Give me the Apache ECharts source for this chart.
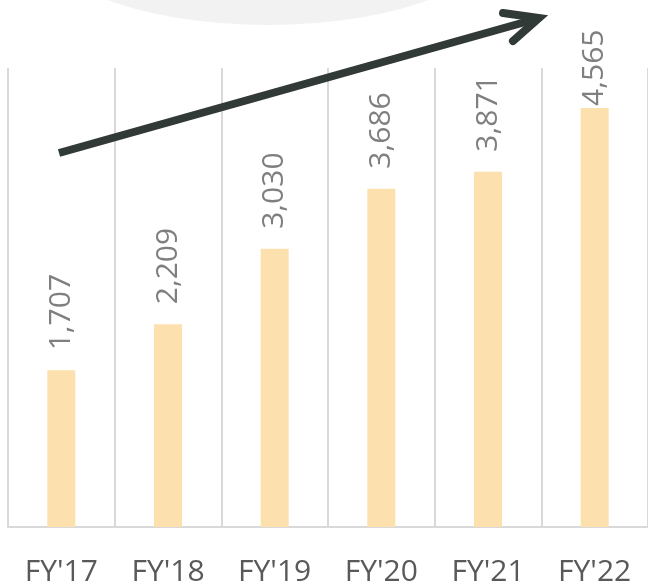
<!DOCTYPE html>
<html>
<head>
<meta charset="utf-8">
<script src="https://cdn.jsdelivr.net/npm/echarts@6/dist/echarts.min.js"></script>
<style>
  html, body { margin: 0; padding: 0; background: #fff; }
  #chart { width: 648px; height: 587px; }
</style>
</head>
<body>
<div id="chart"></div>
<script>
const years = ["FY'17", "FY'18", "FY'19", "FY'20", "FY'21", "FY'22"]
const revenue = [1707, 2209, 3030, 3686, 3871, 4565]

const chart = echarts.init(document.getElementById('chart'))

// the last label sits right on its bar in the original
const barData = revenue.map((v, i) =>
  i === revenue.length - 1 ? { value: v, label: { distance: 2 } } : v
)

chart.setOption({
  animation: false,
  grid: { left: 8, right: -2, top: 68, bottom: 57 },
  xAxis: {
    type: 'category',
    data: years,
    axisTick: { show: false },
    axisLine: { lineStyle: { color: '#d9d9d9', width: 2 } },
    splitLine: { show: true, interval: 0, lineStyle: { color: '#d9d9d9', width: 2 } },
    axisLabel: {
      interval: 0,
      margin: 30,
      color: '#595959',
      fontFamily: 'Open Sans',
      fontSize: 30
    }
  },
  yAxis: { type: 'value', min: 0, max: 5000, show: false },
  series: [
    {
      type: 'bar',
      data: barData,
      barWidth: 28,
      itemStyle: { color: '#fce0ae' },
      label: {
        show: true,
        position: 'top',
        rotate: 90,
        align: 'left',
        verticalAlign: 'middle',
        distance: 20,
        color: '#7f7f7f',
        fontFamily: 'Open Sans',
        fontSize: 30,
        formatter: (p) => p.value.toLocaleString('en-US')
      }
    }
  ],
  graphic: [
    {
      type: 'circle',
      x: 268, y: -75,
      scaleY: 100 / 243,
      shape: { cx: 0, cy: 0, r: 243 },
      style: { fill: '#f2f2f2' },
      z: -10
    },
    {
      type: 'line',
      shape: { x1: 59, y1: 153, x2: 536, y2: 19 },
      style: { stroke: '#323a38', lineWidth: 8, lineCap: 'butt' },
      z: 100
    },
    {
      type: 'polyline',
      shape: { points: [[503, 13], [539, 18], [513, 41]] },
      style: { stroke: '#323a38', lineWidth: 8, lineCap: 'round', lineJoin: 'miter', fill: null },
      z: 100
    }
  ]
})
</script>
</body>
</html>
